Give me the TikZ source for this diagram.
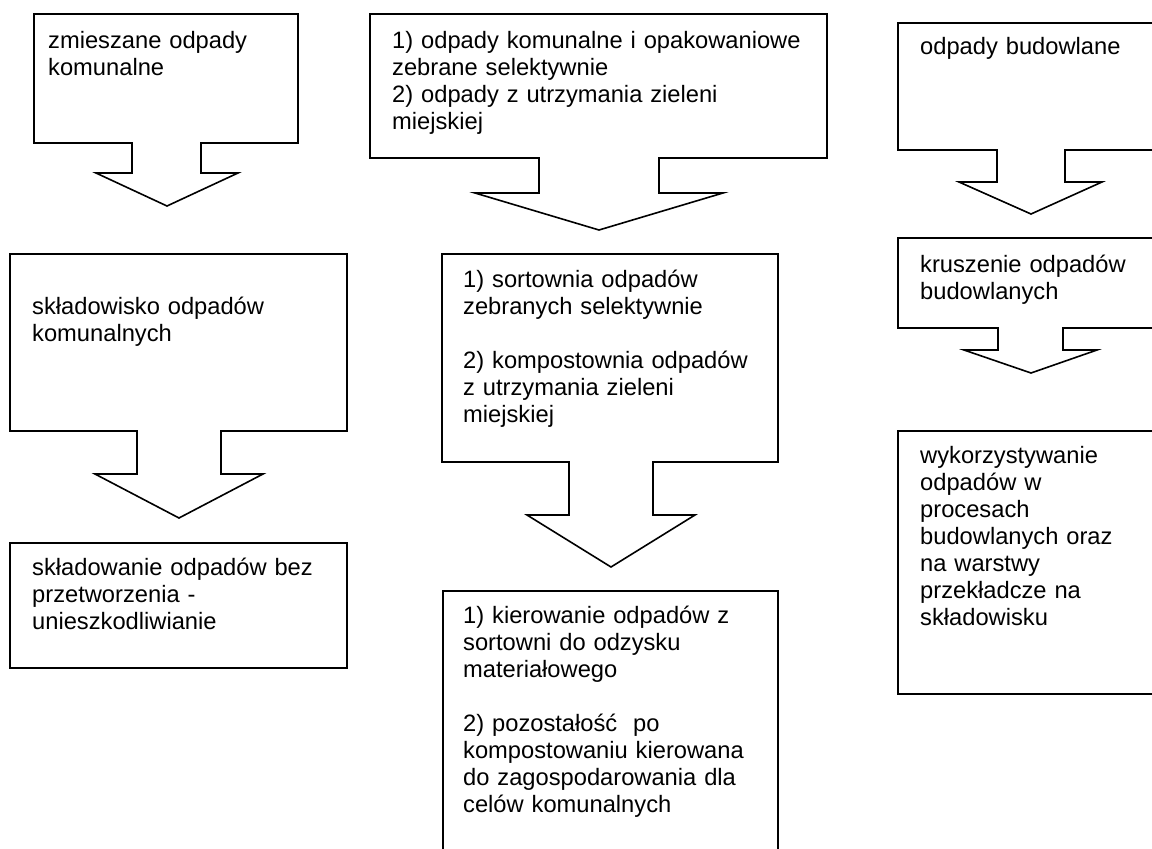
\documentclass[tikz,border=0pt]{standalone}
\usepackage{fontspec}
\setmainfont{Liberation Sans}
\begin{document}
\begin{tikzpicture}[x=1pt,y=-1pt,
  shapeline/.style={draw=black,line width=1.6pt,line join=miter},
  txt/.style={anchor=base west,inner sep=0pt,text width=330pt,align=left,
    font=\fontsize{23.7}{27}\selectfont}]
\useasboundingbox (0,0) rectangle (1152,849);
% column 1
\draw[shapeline] (34,14) -- (298,14) -- (298,143) -- (201,143) -- (201,173) -- (238,173) -- (167,206) -- (96,173) -- (132,173) -- (132,143) -- (34,143) -- cycle;
\node[txt] (t1) at (48,48) {zmieszane odpady\\komunalne};
\draw[shapeline] (10,254) -- (347,254) -- (347,431) -- (221,431) -- (221,474) -- (263,474) -- (179,518) -- (95,474) -- (137,474) -- (137,431) -- (10,431) -- cycle;
\node[txt] (t2) at (32,314) {składowisko odpadów\\komunalnych};
\draw[shapeline] (10,543) rectangle (347,668);
\node[txt] (t3) at (32,575) {składowanie odpadów bez\\przetworzenia -\\unieszkodliwianie};
% column 2
\draw[shapeline] (370,14) -- (827,14) -- (827,158) -- (659,158) -- (659,193) -- (723,193) -- (599,230) -- (475,193) -- (539,193) -- (539,158) -- (370,158) -- cycle;
\node[txt,text width=440pt] (t4) at (392,48) {1) odpady komunalne i opakowaniowe\\zebrane selektywnie\\2) odpady z utrzymania zieleni\\miejskiej};
\draw[shapeline] (442,254) -- (778,254) -- (778,462) -- (653,462) -- (653,515) -- (695,515) -- (611,567) -- (527,515) -- (569,515) -- (569,462) -- (442,462) -- cycle;
\node[txt] (t5) at (463,287) {1) sortownia odpadów\\zebranych selektywnie\\[27pt]2) kompostownia odpadów\\z utrzymania zieleni\\miejskiej};
\draw[shapeline] (443,852) -- (443,591) -- (778,591) -- (778,852);
\node[txt] (t6) at (463,623) {1) kierowanie odpadów z\\sortowni do odzysku\\materiałowego\\[27pt]2) pozostałość\ \ po\\kompostowaniu kierowana\\do zagospodarowania dla\\celów komunalnych};
% column 3
\draw[shapeline] (1160,23) -- (898,23) -- (898,150) -- (997,150) -- (997,182) -- (959,182) -- (1031,214) -- (1102,182) -- (1065,182) -- (1065,150) -- (1160,150);
\node[txt] (t7) at (920,54) {odpady budowlane};
\draw[shapeline] (1160,238) -- (898,238) -- (898,328) -- (998,328) -- (998,350) -- (964,350) -- (1031,373) -- (1097,350) -- (1063,350) -- (1063,328) -- (1160,328);
\node[txt] (t8) at (920,272) {kruszenie odpadów\\budowlanych};
\draw[shapeline] (1160,431) -- (898,431) -- (898,694) -- (1160,694);
\node[txt] (t9) at (920,463) {wykorzystywanie\\odpadów w\\procesach\\budowlanych oraz\\na warstwy\\przekładcze na\\składowisku};
\end{tikzpicture}
\end{document}
